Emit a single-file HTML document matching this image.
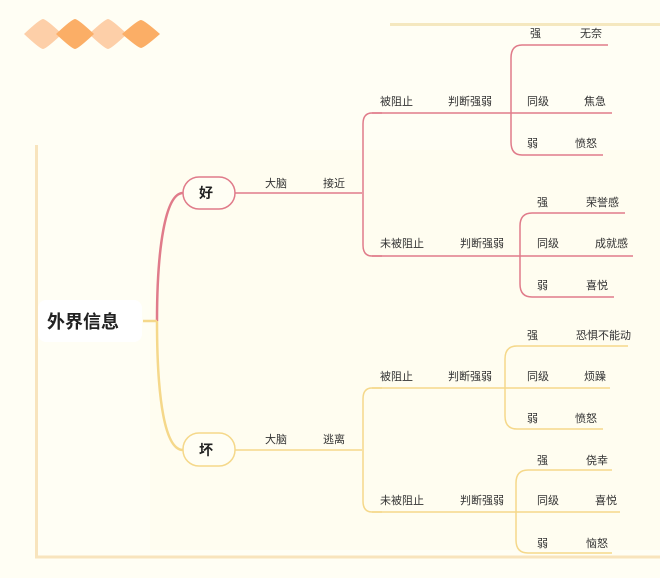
<!DOCTYPE html>
<html><head><meta charset="utf-8"><style>
html,body{margin:0;padding:0;background:#fffef4;}
svg{display:block;font-family:"Liberation Sans","Noto Sans CJK SC",sans-serif;}
text{font-size:11px;fill:#333;}
</style></head><body>
<svg width="660" height="578" viewBox="0 0 660 578" xmlns="http://www.w3.org/2000/svg">
<rect width="660" height="578" fill="#fffef4"/>
<rect x="150" y="150" width="510" height="400" fill="#fffdf0"/>
<!-- diamonds -->
<g>
<path d="M43 19 Q46 19 62 34 Q46 49 43 49 Q40 49 24 34 Q40 19 43 19Z" fill="#fdcfa8"/>
<path d="M108 19 Q111 19 127 34 Q111 49 108 49 Q105 49 89 34 Q105 19 108 19Z" fill="#fdcfa8"/>
<path d="M75 19 Q78 19 94 34 Q78 49 75 49 Q72 49 56 34 Q72 19 75 19Z" fill="#fbae66"/>
<path d="M141 20 Q144 20 160 34 Q144 48 141 48 Q138 48 122 34 Q138 20 141 20Z" fill="#fbae66"/>
</g>
<!-- frame lines -->
<line x1="390" y1="24.5" x2="660" y2="24.5" stroke="#f5e8bf" stroke-width="3"/>
<line x1="36.5" y1="145" x2="36.5" y2="557" stroke="#f8e4bd" stroke-width="3"/>
<line x1="35" y1="557" x2="660" y2="557" stroke="#f8e4bd" stroke-width="3"/>
<rect x="38" y="300" width="104" height="42" rx="8" fill="#fff"/>
<text x="47" y="328" style="font-size:18px;font-weight:bold;fill:#222">外界信息</text>
<!-- good branch (red) -->
<g fill="none" stroke="#e07b8a" stroke-width="1.5">
<path d="M157 321 C157 250 165 193 183 193" stroke-width="2.5"/>
<rect x="183" y="177" width="52" height="32" rx="16" fill="#fffef4"/>
<line x1="235" y1="193" x2="362" y2="193"/>
<path d="M382 113 H372 Q363 113 363 124 V245 Q363 256 372 256 H382"/>
<line x1="372" y1="113" x2="612" y2="113"/>
<line x1="372" y1="256" x2="633" y2="256"/>
<path d="M608 45 H522 Q511 45 511 58 V142 Q511 155 522 155 H603"/>
<path d="M625 213 H532 Q520 213 520 226 V284 Q520 297 532 297 H614"/>
</g>
<text x="199" y="198" style="font-size:14px;font-weight:bold;fill:#222">好</text>
<text x="265" y="187">大脑</text><text x="323" y="187">接近</text>
<text x="380" y="105">被阻止</text><text x="448" y="105">判断强弱</text>
<text x="380" y="247">未被阻止</text><text x="460" y="247">判断强弱</text>
<text x="530" y="37">强</text><text x="580" y="37">无奈</text>
<text x="527" y="105">同级</text><text x="584" y="105">焦急</text>
<text x="527" y="147">弱</text><text x="575" y="147">愤怒</text>
<text x="537" y="206">强</text><text x="586" y="206">荣誉感</text>
<text x="537" y="247">同级</text><text x="595" y="247">成就感</text>
<text x="537" y="289">弱</text><text x="586" y="289">喜悦</text>
<!-- bad branch (yellow) -->
<g fill="none" stroke="#f5d88a" stroke-width="1.5">
<line x1="143" y1="321" x2="157" y2="321" stroke-width="2.5"/>
<path d="M157 321 C157 400 165 450 183 450" stroke-width="2.5"/>
<rect x="183" y="433" width="52" height="33" rx="16" fill="#fffef4"/>
<line x1="235" y1="450" x2="362" y2="450"/>
<path d="M382 388 H372 Q363 388 363 399 V501 Q363 512 372 512 H382"/>
<line x1="372" y1="388" x2="610" y2="388"/>
<line x1="372" y1="512" x2="620" y2="512"/>
<path d="M628 346 H517 Q505 346 505 359 V416 Q505 429 517 429 H603"/>
<path d="M612 470 H528 Q516 470 516 483 V540 Q516 553 528 553 H612"/>
</g>
<text x="199" y="455" style="font-size:14px;font-weight:bold;fill:#222">坏</text>
<text x="265" y="443">大脑</text><text x="323" y="443">逃离</text>
<text x="380" y="380">被阻止</text><text x="448" y="380">判断强弱</text>
<text x="380" y="504">未被阻止</text><text x="460" y="504">判断强弱</text>
<text x="527" y="339">强</text><text x="576" y="339">恐惧不能动</text>
<text x="527" y="380">同级</text><text x="584" y="380">烦躁</text>
<text x="527" y="422">弱</text><text x="575" y="422">愤怒</text>
<text x="537" y="464">强</text><text x="586" y="464">侥幸</text>
<text x="537" y="504">同级</text><text x="595" y="504">喜悦</text>
<text x="537" y="547">弱</text><text x="586" y="547">恼怒</text>
</svg>
</body></html>
